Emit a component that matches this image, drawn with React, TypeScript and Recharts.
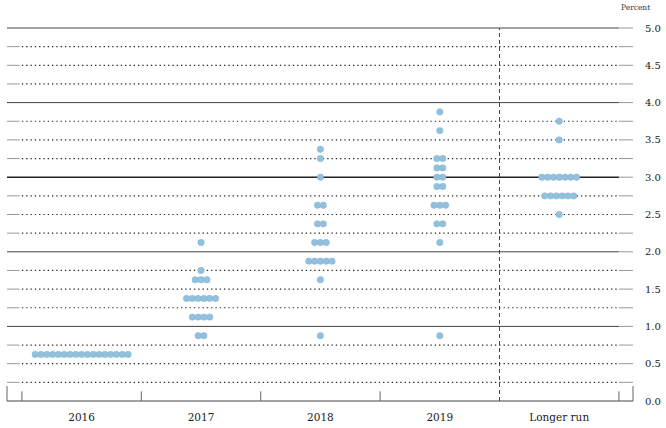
import { ReferenceLine, Scatter, ScatterChart, XAxis, YAxis } from "recharts";

const CATEGORIES = ["2016", "2017", "2018", "2019", "Longer run"];

// [midpoint of target range, number of participants]
const DOTS_2016 = [[0.625, 17]];
const DOTS_2017 = [[2.125, 1], [1.75, 1], [1.625, 3], [1.375, 6], [1.125, 4], [0.875, 2]];
const DOTS_2018 = [[3.375, 1], [3.25, 1], [3.0, 1], [2.625, 2], [2.375, 2], [2.125, 3], [1.875, 5], [1.625, 1], [0.875, 1]];
const DOTS_2019 = [[3.875, 1], [3.625, 1], [3.25, 2], [3.125, 2], [3.0, 2], [2.875, 2], [2.625, 3], [2.375, 2], [2.125, 1], [0.875, 1]];
const DOTS_LONGER = [[3.75, 1], [3.5, 1], [3.0, 7], [2.75, 6], [2.5, 1]];

const Y_TICKS = [0, 0.5, 1, 1.5, 2, 2.5, 3, 3.5, 4, 4.5, 5];

const SERIES = [DOTS_2016, DOTS_2017, DOTS_2018, DOTS_2019, DOTS_LONGER];

const X_MIN = -0.625;
const X_MAX = 4.618;
const SPACING = 0.0486; // dot spacing in category units
const DOT = "#93c1dd";
const FONT = "'DejaVu Serif', serif";

const points = SERIES.flatMap((rows, i) =>
  rows.flatMap(([rate, n]) =>
    Array.from({ length: n }, (_, j) => ({ x: i + (j - (n - 1) / 2) * SPACING, y: rate }))
  )
);

const levels = Array.from({ length: 20 }, (_, k) => (k + 1) * 0.25);

function gridLines() {
  const out: React.ReactNode[] = [];
  levels.forEach((v) => {
    const whole = Number.isInteger(v);
    if (whole) {
      out.push(
        <ReferenceLine key={`s${v}`} segment={[{ x: X_MIN, y: v }, { x: 4.5, y: v }]} stroke={v === 3 ? "#222" : "#444"} strokeWidth={v === 3 ? 1.5 : 1} />
      );
    } else {
      out.push(
        <ReferenceLine key={`l${v}`} segment={[{ x: X_MIN, y: v }, { x: -0.52, y: v }]} stroke="#999" />,
        <ReferenceLine key={`d${v}`} segment={[{ x: -0.5, y: v }, { x: 4.5, y: v }]} stroke="#222" strokeWidth={1.2} strokeDasharray="1.3 3" />
      );
    }
    out.push(<ReferenceLine key={`r${v}`} segment={[{ x: 4.5, y: v }, { x: X_MAX, y: v }]} stroke="#999" />);
  });
  return out;
}

export default function App() {
  return (
    <div style={{ position: "absolute", left: 0, top: 0, width: 666, height: 428, background: "#fff" }}>
      <div style={{ position: "absolute", left: 621, top: 3, fontFamily: FONT, fontSize: 7.5, color: "#333" }}>Percent</div>
      <ScatterChart width={666} height={428} margin={{ top: 28, right: 0, bottom: 0, left: 7 }}>
        <XAxis
          type="number"
          dataKey="x"
          domain={[X_MIN, X_MAX]}
          ticks={[0, 1, 2, 3, 4]}
          interval={0}
          tickFormatter={(v) => CATEGORIES[v]}
          axisLine={false}
          tickLine={false}
          tickSize={0}
          tickMargin={13}
          height={27}
          allowDataOverflow
          tick={{ fill: "#222", fontSize: 10.5, fontFamily: FONT }}
        />
        <YAxis
          type="number"
          dataKey="y"
          orientation="right"
          domain={[0, 5]}
          ticks={Y_TICKS}
          interval={0}
          tickFormatter={(v) => v.toFixed(1)}
          axisLine={false}
          tickLine={false}
          tickSize={0}
          tickMargin={12}
          width={33}
          tick={{ fill: "#222", fontSize: 10, fontFamily: FONT }}
        />
        {gridLines()}
        <ReferenceLine y={0} stroke="#444" />
        <ReferenceLine x={3.5} stroke="#444" strokeDasharray="4 3" />
        {[X_MIN, X_MAX].map((x) => (
          <ReferenceLine key={`e${x}`} segment={[{ x, y: 0 }, { x, y: 0.2 }]} stroke="#666" />
        ))}
        {[-0.5, 0.5, 1.5, 2.5, 4.5].map((x) => (
          <ReferenceLine key={`t${x}`} segment={[{ x, y: 0 }, { x, y: 0.13 }]} stroke="#666" />
        ))}
        <Scatter
          data={points}
          isAnimationActive={false}
          shape={(p: any) => <circle cx={p.cx} cy={p.cy} r={3.2} fill={DOT} stroke="#7fb2d4" strokeWidth={0.5} />}
        />
      </ScatterChart>
    </div>
  );
}
